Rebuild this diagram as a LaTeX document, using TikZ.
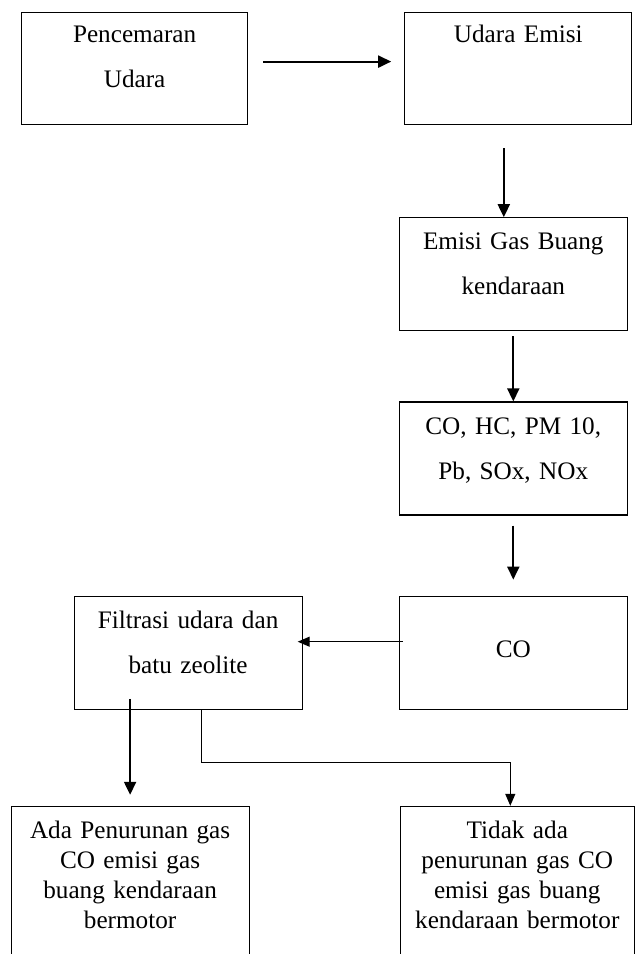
\documentclass[tikz,border=0pt]{standalone}
\usepackage{fontspec}
\setmainfont{Liberation Serif}
\usetikzlibrary{arrows.meta,positioning}

\begin{document}
\begin{tikzpicture}[>={Triangle[length=6.5pt,width=6pt]},
  kotak/.style={draw,line width=0.6pt,inner sep=0pt,align=center,text width=114pt,text height=16pt,text depth=40.5pt,font=\fontsize{12.6pt}{22.5pt}\selectfont},
  bawah/.style={kotak,text width=118pt,text depth=70.5pt,font=\fontsize{12.6pt}{15pt}\selectfont},
  panah/.style={->,line width=1pt},
  tipis/.style={-{Triangle[length=6pt,width=5pt]},line width=0.6pt}]

  \useasboundingbox (0,0) rectangle (317.5pt,-477pt);
  \clip (0,0) rectangle (317.5pt,-477pt);

  \node[kotak,text width=113pt,text height=15pt,text depth=41pt,anchor=north west] (pu) at (10.5pt,-6pt) {Pencemaran\\Udara};
  \node[kotak,text width=113.5pt,text height=15pt,text depth=41pt] (ue) [right=78pt of pu] {Udara Emisi};
  \node[kotak] (egb) [below=46pt of ue,xshift=-2.5pt] {Emisi Gas Buang\\kendaraan};
  \node[kotak] (pol) [below=35pt of egb] {CO, HC, PM 10,\\Pb, SOx, NOx};
  \node[kotak,text height=30.75pt,text depth=25.75pt] (co) [below=40pt of pol] {CO};
  \node[kotak] (fil) [left=48pt of co] {Filtrasi udara dan\\batu zeolite};
  \node[bawah,text width=119pt] (ada) [below=48pt of fil,xshift=-29pt] {Ada Penurunan gas\\CO emisi gas\\buang kendaraan\\bermotor};
  \node[bawah,text width=117pt] (tid) [below=48pt of co,xshift=2pt] {Tidak ada\\penurunan gas CO\\emisi gas buang\\kendaraan bermotor};

  \coordinate (t2) at ([xshift=-4.75pt]egb.north);
  \coordinate (t7) at ([xshift=6.5pt]fil.south);
  \coordinate (t8) at ([xshift=-3.5pt]tid.north);

  \draw[panah,shorten <=7.5pt,shorten >=6.5pt] ([yshift=3.5pt]pu.east) -- ([yshift=3.5pt]ue.west);
  \draw[panah,shorten <=11.5pt] (t2 |- ue.south) -- (t2);
  \draw[panah,shorten <=2.5pt] (egb.south) -- (pol.north);
  \draw[panah,shorten <=5pt,shorten >=8pt] (pol.south) -- (co.north);
  \draw[tipis,shorten <=-2pt,shorten >=-2.5pt] ([yshift=5.5pt]co.west) -- ([yshift=5.5pt]fil.east);
  \draw[panah,shorten >=5.5pt] (ada.north |- fil.south) ++(0,5.5pt) -- (ada.north);
  \draw[tipis] (t7) -- ++(0,-26.5pt) -| (t8);
\end{tikzpicture}
\end{document}
